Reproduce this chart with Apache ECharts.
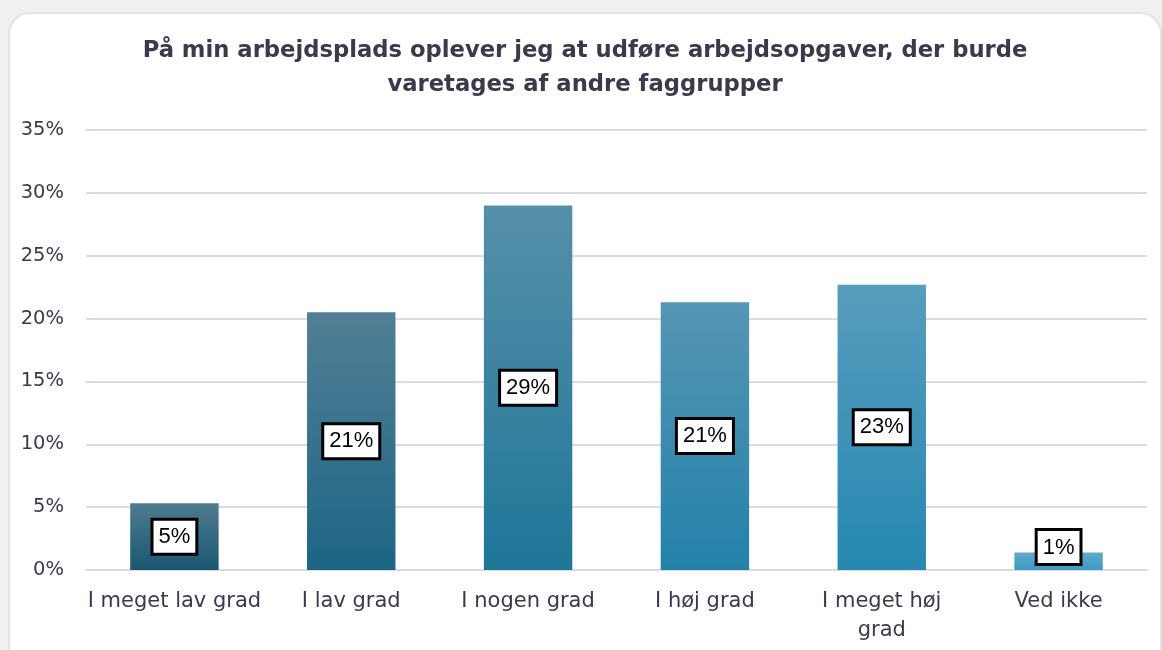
<!DOCTYPE html>
<html>
<head>
<meta charset="utf-8">
<script src="https://cdn.jsdelivr.net/npm/echarts@6/dist/echarts.min.js"></script>
<style>
  html, body { margin: 0; padding: 0; background: #f0f0f2; }
  #card {
    position: absolute; left: 8px; top: 12px; width: 1150px; height: 680px;
    background: #fff; border: 2px solid #e2e2e8; border-radius: 22px;
  }
  #chart { position: absolute; left: 0; top: 0; width: 1162px; height: 650px; }
</style>
</head>
<body>
<div id="card"></div>
<div id="chart"></div>
<script>
const categories = ['I meget lav grad', 'I lav grad', 'I nogen grad', 'I høj grad', 'I meget høj\ngrad', 'Ved ikke']
const shares = [5.3, 20.5, 29.0, 21.3, 22.7, 1.4]
const yTicks = [0, 5, 10, 15, 20, 25, 30, 35]

// top / bottom gradient colours per bar
const barTops = ['#4f7b8f', '#527f95', '#568fa9', '#5696b5', '#579dbd', '#64aacb']
const barBottoms = ['#1a5773', '#1c6585', '#1f7699', '#2381a9', '#2688b1', '#3a9ac4']

const chart = echarts.init(document.getElementById('chart'))

const option = {
  backgroundColor: 'transparent',
  animation: false,
  title: {
    text: 'På min arbejdsplads oplever jeg at udføre arbejdsopgaver, der burde\nvaretages af andre faggrupper',
    left: 580,
    textAlign: 'center',
    top: 29,
    textStyle: {
      fontFamily: 'DejaVu Sans',
      fontWeight: 'bold',
      fontSize: 22.7,
      lineHeight: 34,
      color: '#3a3a4c',
    },
  },
  grid: { left: 86, right: 15, top: 130, bottom: 80 },
  xAxis: {
    type: 'category',
    data: categories,
    axisLine: { lineStyle: { color: '#dcdbe3', width: 2 } },
    axisTick: { show: false },
    axisLabel: {
      interval: 0,
      margin: 17,
      fontFamily: 'DejaVu Sans',
      fontSize: 21,
      lineHeight: 29,
      color: '#3a3a4e',
    },
  },
  yAxis: {
    type: 'value',
    min: yTicks[0],
    max: yTicks[yTicks.length - 1],
    interval: 5,
    axisLine: { show: false },
    axisTick: { show: false },
    splitLine: { lineStyle: { color: '#dcdbe3', width: 2 } },
    axisLabel: {
      margin: 22,
      formatter: '{value}%',
      fontFamily: 'DejaVu Sans',
      fontSize: 19.5,
      color: '#3a3a4e',
    },
  },
  series: [
    {
      type: 'bar',
      barWidth: '50%',
      data: shares.map((v, i) => ({
        value: v,
        itemStyle: {
          color: new echarts.graphic.LinearGradient(0, 0, 0, 1, [
            { offset: 0, color: barTops[i] },
            { offset: 1, color: barBottoms[i] },
          ]),
        },
        label: v < 3 ? { position: 'insideBottom', distance: 7 } : {},
      })),
      label: {
        show: true,
        position: 'inside',
        formatter: (p) => Math.round(p.value) + '%',
        fontFamily: 'Liberation Sans',
        fontSize: 22,
        color: '#000',
        backgroundColor: '#fff',
        borderColor: '#000',
        borderWidth: 3,
        padding: [6, 5, 4, 5],
      },
    },
  ],
}

chart.setOption(option)
</script>
</body>
</html>
